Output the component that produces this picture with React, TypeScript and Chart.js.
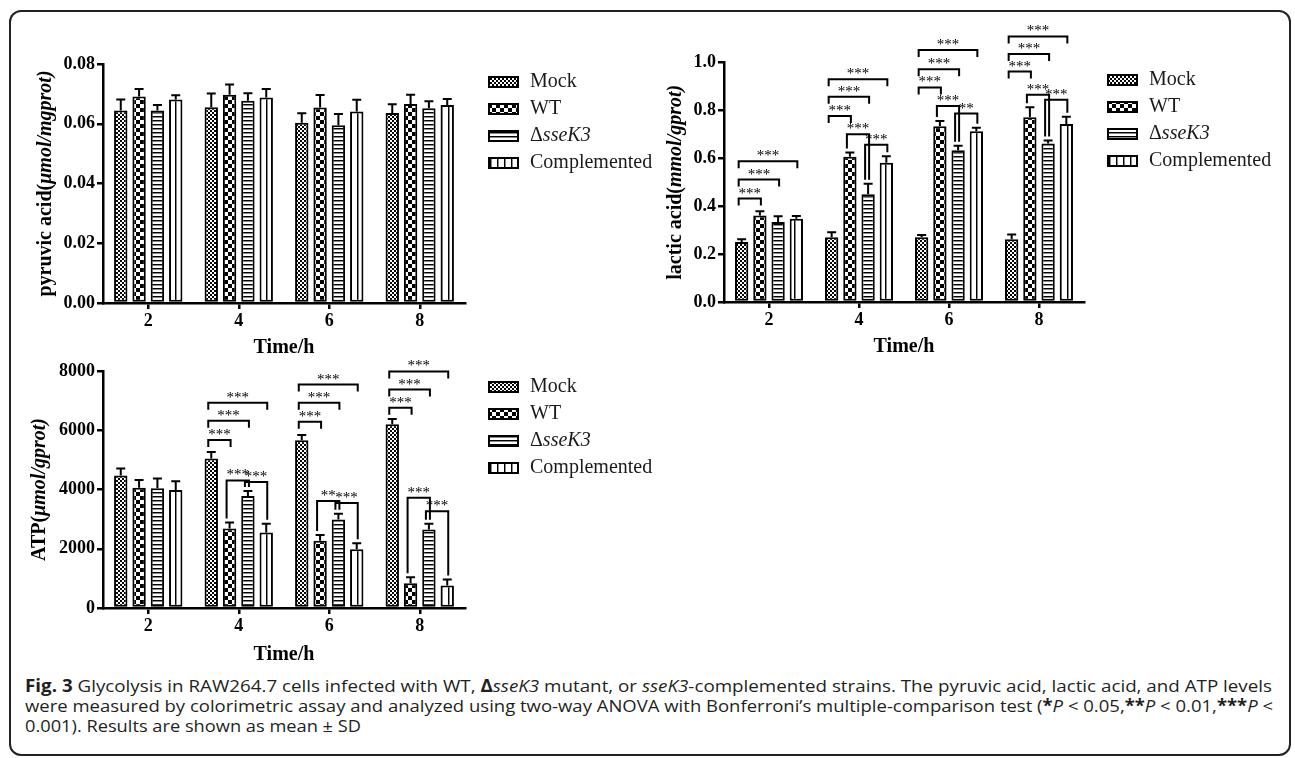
import React, { useEffect, useLayoutEffect, useRef } from 'react';
import { Chart, registerables } from 'chart.js';

Chart.register(...registerables);

const SERIF = "'Liberation Serif', 'Times New Roman', serif";
const SANS = "'Open Sans', 'Noto Sans', sans-serif";

// ---------- data ----------
const timeLabels = ['2', '4', '6', '8'];
const seriesNames = ['Mock', 'WT', 'ΔsseK3', 'Complemented'];

// pyruvic acid (μmol/mgprot)
const pyruvicMock = [0.0644, 0.0655, 0.0603, 0.0636];
const pyruvicWT = [0.0691, 0.0697, 0.0654, 0.0666];
const pyruvicDelta = [0.0644, 0.0677, 0.0595, 0.0652];
const pyruvicComp = [0.0681, 0.0688, 0.0641, 0.0663];
const pyruvicMockSD = [0.0037, 0.0046, 0.0032, 0.0029];
const pyruvicWTSD = [0.0025, 0.0034, 0.0042, 0.0031];
const pyruvicDeltaSD = [0.0019, 0.0025, 0.0038, 0.0023];
const pyruvicCompSD = [0.0014, 0.0028, 0.0039, 0.002];
const pyruvicAxis = { max: 0.08, step: 0.02, decimals: 2 };
const pyruvicTitle = ['pyruvic acid(', 'μmol/mgprot)'];

// lactic acid (mmol/gprot)
const lacticMock = [0.251, 0.27, 0.27, 0.262];
const lacticWT = [0.361, 0.606, 0.734, 0.771];
const lacticDelta = [0.334, 0.45, 0.634, 0.662];
const lacticComp = [0.348, 0.581, 0.713, 0.743];
const lacticMockSD = [0.011, 0.021, 0.01, 0.02];
const lacticWTSD = [0.018, 0.018, 0.022, 0.042];
const lacticDeltaSD = [0.024, 0.044, 0.018, 0.012];
const lacticCompSD = [0.011, 0.028, 0.015, 0.031];
const lacticAxis = { max: 1.0, step: 0.2, decimals: 1 };
const lacticTitle = ['lactic acid(', 'mmol/gprot)'];

// ATP (μmol/gprot)
const atpMock = [4476, 5047, 5662, 6200];
const atpWT = [4062, 2686, 2272, 838];
const atpDelta = [4040, 3782, 2988, 2647];
const atpComp = [3984, 2551, 1981, 760];
const atpMockSD = [235, 223, 179, 178];
const atpWTSD = [257, 201, 190, 201];
const atpDeltaSD = [335, 168, 190, 201];
const atpCompSD = [291, 291, 201, 201];
const atpAxis = { max: 8000, step: 2000, decimals: 0 };
const atpTitle = ['ATP(', 'μmol/gprot)'];

// significance brackets: [time index, from series, to series, bracket level, label, legs reach bars]
type Bracket = [number, number, number, number, string, boolean];
const pyruvicBrackets: Bracket[] = [];
const lacticBrackets: Bracket[] = [
  [0, 0, 1, 0.432, '***', false],
  [0, 0, 2, 0.511, '***', false],
  [0, 0, 3, 0.588, '***', false],
  [1, 0, 1, 0.777, '***', false],
  [1, 0, 2, 0.857, '***', false],
  [1, 0, 3, 0.93, '***', false],
  [1, 1, 2, 0.7, '***', true],
  [1, 2, 3, 0.657, '***', true],
  [2, 0, 1, 0.896, '***', false],
  [2, 0, 2, 0.972, '***', false],
  [2, 0, 3, 1.052, '***', false],
  [2, 1, 2, 0.818, '***', true],
  [2, 2, 3, 0.787, '**', true],
  [3, 0, 1, 0.962, '***', false],
  [3, 0, 2, 1.035, '***', false],
  [3, 0, 3, 1.109, '***', false],
  [3, 1, 2, 0.865, '***', true],
  [3, 2, 3, 0.844, '***', true],
];
const atpBrackets: Bracket[] = [
  [1, 0, 1, 5673, '***', false],
  [1, 0, 2, 6322, '***', false],
  [1, 0, 3, 6927, '***', false],
  [1, 1, 2, 4308, '***', true],
  [1, 2, 3, 4252, '***', true],
  [2, 0, 1, 6289, '***', false],
  [2, 0, 2, 6927, '***', false],
  [2, 0, 3, 7542, '***', false],
  [2, 1, 2, 3614, '**', true],
  [2, 2, 3, 3547, '***', true],
  [3, 0, 1, 6758, '***', false],
  [3, 0, 2, 7372, '***', false],
  [3, 0, 3, 7987, '***', false],
  [3, 1, 2, 3720, '***', true],
  [3, 2, 3, 3262, '***', true],
];

// ---------- helpers ----------
function makePatterns(): CanvasPattern[] {
  const mk = (w: number, h: number, draw: (g: CanvasRenderingContext2D) => void) => {
    const c = document.createElement('canvas');
    c.width = w;
    c.height = h;
    const g = c.getContext('2d')!;
    g.fillStyle = '#fff';
    g.fillRect(0, 0, w, h);
    g.fillStyle = '#000';
    draw(g);
    return g.createPattern(c, 'repeat')!;
  };
  return [
    mk(4, 4, (g) => {
      g.fillRect(0, 0, 2, 2);
      g.fillRect(2, 2, 2, 2);
    }),
    mk(8, 8, (g) => {
      g.fillRect(0, 0, 4, 4);
      g.fillRect(4, 4, 4, 4);
    }),
    mk(1, 4, (g) => {
      g.fillRect(0, 0, 1, 1);
      g.fillStyle = '#888';
      g.fillRect(0, 1, 1, 1);
    }),
    mk(7, 1, (g) => {
      g.fillRect(0, 0, 1, 1);
      g.fillStyle = '#888';
      g.fillRect(1, 0, 1, 1);
    }),
  ];
}

type Part = [string, string];
function drawParts(ctx: CanvasRenderingContext2D, parts: Part[], x: number, y: number, size: number, weight: string, center: boolean) {
  const fonts = parts.map(([, style]) => `${style}${weight}${size}px ${SERIF}`);
  const widths = parts.map(([t], i) => {
    ctx.font = fonts[i];
    return ctx.measureText(t).width;
  });
  const total = widths.reduce((a, b) => a + b, 0);
  let cx = center ? x - total / 2 : x;
  ctx.textBaseline = 'middle';
  ctx.textAlign = 'left';
  parts.forEach(([t], i) => {
    ctx.font = fonts[i];
    ctx.fillText(t, cx, y);
    cx += widths[i];
  });
}

function legendParts(name: string): Part[] {
  return name.startsWith('Δ') ? [['Δ', ''], [name.slice(1), 'italic ']] : [[name, '']];
}

type PanelCfg = {
  x: number;
  y: number;
  w: number;
  h: number;
  area: { left: number; right: number; top: number; bottom: number };
  values: number[][];
  sds: number[][];
  axis: { max: number; step: number; decimals: number };
  title: string[];
  titleDx: number;
  xTitlePad: number;
  legendDx: number;
  legendDy: number;
  brackets: Bracket[];
};

function Panel({ cfg }: { cfg: PanelCfg }) {
  const ref = useRef<HTMLCanvasElement>(null);
  useEffect(() => {
    const canvas = ref.current!;
    const patterns = makePatterns();
    const { area } = cfg;

    const decor = {
      id: 'decor',
      afterDatasetsDraw(chart: any) {
        const ctx: CanvasRenderingContext2D = chart.ctx;
        const ca = chart.chartArea;
        const ys = chart.scales.y;
        const errTop = (d: number, k: number) => ys.getPixelForValue(cfg.values[d][k] + cfg.sds[d][k]);
        ctx.save();
        ctx.strokeStyle = '#000';
        ctx.fillStyle = '#000';
        ctx.lineWidth = 2;
        ctx.lineCap = 'butt';
        ctx.lineJoin = 'miter';
        // error bars (upper)
        cfg.values.forEach((vals, d) => {
          const meta = chart.getDatasetMeta(d);
          meta.data.forEach((bar: any, k: number) => {
            const top = errTop(d, k);
            ctx.beginPath();
            ctx.moveTo(bar.x, bar.y);
            ctx.lineTo(bar.x, top);
            ctx.moveTo(bar.x - 4.5, top);
            ctx.lineTo(bar.x + 4.5, top);
            ctx.stroke();
          });
        });
        // significance brackets
        ctx.font = `15px ${SERIF}`;
        ctx.textAlign = 'center';
        ctx.textBaseline = 'alphabetic';
        cfg.brackets.forEach(([g, a, b, v, label, reach]) => {
          const ba = chart.getDatasetMeta(a).data[g];
          const bb = chart.getDatasetMeta(b).data[g];
          const y = ys.getPixelForValue(v);
          const x1 = ba.x - 3;
          const x2 = bb.x + 1;
          const y1 = reach ? errTop(a, g) - 4 : y + 7;
          const y2 = reach ? errTop(b, g) - 4 : y + 7;
          ctx.beginPath();
          ctx.moveTo(x1, y1);
          ctx.lineTo(x1, y);
          ctx.lineTo(x2, y);
          ctx.lineTo(x2, y2);
          ctx.stroke();
          ctx.fillText(label, (x1 + x2) / 2, y - 1);
        });
        // legend
        const bx = ca.right + cfg.legendDx;
        seriesNames.forEach((name, i) => {
          const cy = ca.top + cfg.legendDy + i * 27;
          ctx.fillStyle = patterns[i];
          ctx.fillRect(bx, cy - 5, 29, 10);
          ctx.strokeStyle = '#000';
          ctx.lineWidth = 2;
          ctx.strokeRect(bx, cy - 5, 29, 10);
          ctx.fillStyle = '#1a1a1a';
          drawParts(ctx, legendParts(name), bx + 41, cy, 20, '', false);
        });
        // y-axis title
        ctx.fillStyle = '#000';
        ctx.translate(ca.left + cfg.titleDx, (ca.top + ca.bottom) / 2);
        ctx.rotate(-Math.PI / 2);
        drawParts(ctx, [[cfg.title[0], ''], [cfg.title[1], 'italic ']], 0, 0, 20, 'bold ', true);
        ctx.restore();
      },
    };

    const tickFont = { family: SERIF, size: 18, weight: 'bold' as const };
    const gridOpts = {
      display: true,
      offset: false,
      drawOnChartArea: false,
      drawTicks: true,
      tickLength: 6,
      tickWidth: 2.5,
      lineWidth: 2.5,
      color: '#000',
    };

    const chart = new Chart(canvas, {
      type: 'bar',
      data: {
        labels: timeLabels,
        datasets: cfg.values.map((vals, i) => ({
          label: seriesNames[i],
          data: vals,
          backgroundColor: patterns[i],
          borderColor: '#000',
          borderWidth: 2,
          borderSkipped: false,
          categoryPercentage: 0.81,
          barPercentage: 0.73,
        })),
      },
      options: {
        responsive: false,
        animation: false,
        devicePixelRatio: 1,
        layout: { padding: { left: 0, right: cfg.w - area.right, top: area.top, bottom: 0 } },
        plugins: { legend: { display: false }, tooltip: { enabled: false }, title: { display: false } },
        scales: {
          x: {
            grid: gridOpts,
            border: { display: true, color: '#000', width: 2.5 },
            ticks: { color: '#000', font: tickFont, padding: 2, maxRotation: 0 },
            title: {
              display: true,
              text: 'Time/h',
              color: '#000',
              font: { family: SERIF, size: 20, weight: 'bold' },
              padding: { top: 0, bottom: cfg.xTitlePad },
            },
            afterFit: (s: any) => {
              s.height = cfg.h - area.bottom;
            },
          },
          y: {
            min: 0,
            max: cfg.axis.max,
            grid: gridOpts,
            border: { display: true, color: '#000', width: 2.5 },
            ticks: {
              stepSize: cfg.axis.step,
              color: '#000',
              font: tickFont,
              padding: 2,
              callback: (v: any) => Number(v).toFixed(cfg.axis.decimals),
            },
            afterFit: (s: any) => {
              s.width = area.left;
            },
          },
        },
      },
      plugins: [decor],
    } as any);
    return () => chart.destroy();
  }, []);
  return (
    <canvas
      ref={ref}
      width={cfg.w}
      height={cfg.h}
      style={{ position: 'absolute', left: cfg.x, top: cfg.y, width: cfg.w, height: cfg.h }}
    />
  );
}

const panels: PanelCfg[] = [
  {
    x: 0,
    y: 0,
    w: 700,
    h: 370,
    area: { left: 103, right: 465, top: 64, bottom: 303 },
    values: [pyruvicMock, pyruvicWT, pyruvicDelta, pyruvicComp],
    sds: [pyruvicMockSD, pyruvicWTSD, pyruvicDeltaSD, pyruvicCompSD],
    axis: pyruvicAxis,
    title: pyruvicTitle,
    titleDx: -57,
    xTitlePad: 10,
    legendDx: 24,
    legendDy: 18,
    brackets: pyruvicBrackets,
  },
  {
    x: 640,
    y: 0,
    w: 655,
    h: 370,
    area: { left: 84, right: 444, top: 62.5, bottom: 302 },
    values: [lacticMock, lacticWT, lacticDelta, lacticComp],
    sds: [lacticMockSD, lacticWTSD, lacticDeltaSD, lacticCompSD],
    axis: lacticAxis,
    title: lacticTitle,
    titleDx: -48.5,
    xTitlePad: 11,
    legendDx: 24,
    legendDy: 17.5,
    brackets: lacticBrackets,
  },
  {
    x: 0,
    y: 340,
    w: 700,
    h: 328,
    area: { left: 103, right: 465, top: 31, bottom: 268 },
    values: [atpMock, atpWT, atpDelta, atpComp],
    sds: [atpMockSD, atpWTSD, atpDeltaSD, atpCompSD],
    axis: atpAxis,
    title: atpTitle,
    titleDx: -63,
    xTitlePad: 1,
    legendDx: 24,
    legendDy: 16,
    brackets: atpBrackets,
  },
];

const captionWidths = [1247, 1248, 336];

function Caption() {
  const r0 = useRef<HTMLDivElement>(null);
  const r1 = useRef<HTMLDivElement>(null);
  const r2 = useRef<HTMLDivElement>(null);
  useLayoutEffect(() => {
    [r0, r1, r2].forEach((r, i) => {
      const el = r.current!;
      el.style.transform = '';
      const w = el.getBoundingClientRect().width;
      if (w > 0) el.style.transform = `scaleX(${captionWidths[i] / w})`;
    });
  }, []);
  const line: React.CSSProperties = {
    display: 'block',
    width: 'max-content',
    whiteSpace: 'nowrap',
    transformOrigin: '0 0',
    height: 20,
  };
  return (
    <div
      style={{
        position: 'absolute',
        left: 25,
        top: 676,
        fontFamily: SANS,
        fontSize: 17,
        lineHeight: '20px',
        color: '#231f20',
      }}
    >
      <div ref={r0} style={line}>
        <b>Fig. 3</b> Glycolysis in RAW264.7 cells infected with WT, <b>Δ</b>
        <i>sseK3</i> mutant, or <i>sseK3</i>-complemented strains. The pyruvic acid, lactic acid, and ATP levels
      </div>
      <div ref={r1} style={line}>
        were measured by colorimetric assay and analyzed using two-way ANOVA with Bonferroni’s multiple-comparison test (
        <b>*</b>
        <i>P</i> &lt; 0.05,<b>**</b>
        <i>P</i> &lt; 0.01,<b>***</b>
        <i>P</i> &lt;
      </div>
      <div ref={r2} style={line}>
        0.001). Results are shown as mean ± SD
      </div>
    </div>
  );
}

export default function App() {
  return (
    <div style={{ position: 'fixed', left: 0, top: 0, width: 1295, height: 758, background: '#fff', overflow: 'hidden' }}>
      <div
        style={{
          position: 'absolute',
          left: 9,
          top: 10,
          width: 1282,
          height: 746,
          border: '2px solid #222',
          borderRadius: 12,
          boxSizing: 'border-box',
        }}
      />
      {panels.map((p, i) => (
        <Panel key={i} cfg={p} />
      ))}
      <Caption />
    </div>
  );
}
